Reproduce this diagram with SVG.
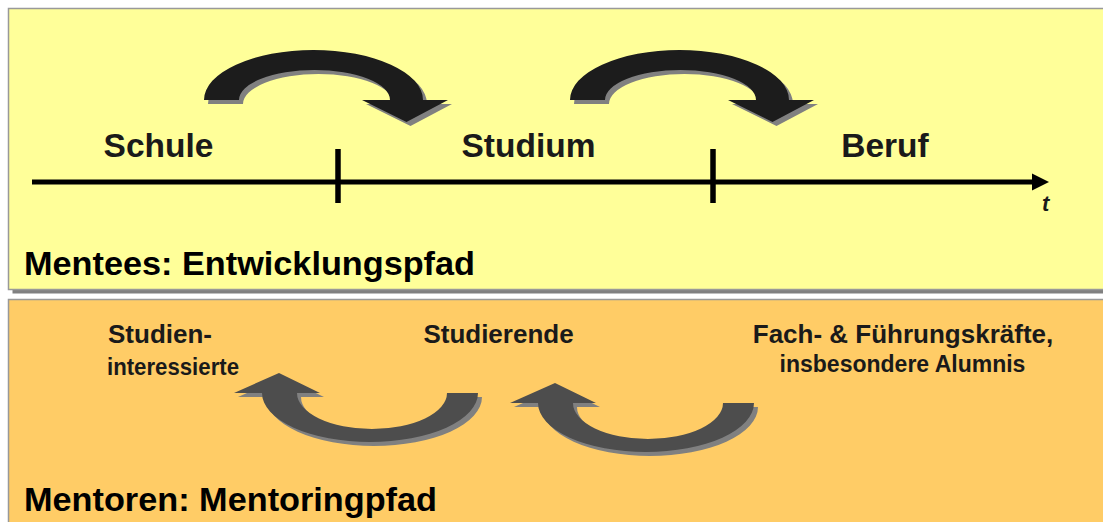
<svg xmlns="http://www.w3.org/2000/svg" width="1103" height="522" viewBox="0 0 1103 522">
<defs>
<style>
.lbl{font-family:"Liberation Sans",Arial,sans-serif;font-weight:bold;fill:#1a1a1a}
.big{font-size:33.5px;text-anchor:middle}
.title{font-size:33px;fill:#000}
.small{font-size:26px;text-anchor:middle}
.tiny{font-size:23px;text-anchor:middle}
.shadow{fill:#808080}
.topArrow{fill:#1c1c1c}
.botArrow{fill:#4d4d4d}
</style>
<path id="arcTop" d="M204,100 A109.5,50 0 0 1 423,100 L448,100 L406.5,122 L362,100 L390,100 A75.5,30 0 0 0 239,100 Z"/>
<path id="arcBot" d="M478,393 A108,49 0 0 1 262,393 L234,393 L279,373 L320,393 L297,393 A75,36 0 0 0 447,393 Z"/>
</defs>
<rect width="1103" height="522" fill="#ffffff"/>
<g id="panel-mentees">
<rect x="12.5" y="12.5" width="1100" height="281" fill="#808080"/>
<rect x="8.5" y="8.5" width="1100" height="281" fill="#ffff99" stroke="#999999" stroke-width="1.5"/>
</g>
<g id="panel-mentoren">
<rect x="8.5" y="299.5" width="1100" height="240" fill="#ffcc66" stroke="#999999" stroke-width="1.5"/>
</g>
<g id="connectors">
<line x1="32" y1="182" x2="1034" y2="182" stroke="#000" stroke-width="5"/>
<polygon points="1032,173.5 1049,182 1032,190.5" fill="#000"/>
<line x1="338" y1="149" x2="338" y2="203" stroke="#000" stroke-width="5.5"/>
<line x1="713" y1="149" x2="713" y2="203" stroke="#000" stroke-width="5.5"/>
<g id="arrow-schule-studium">
<use href="#arcTop" class="shadow" transform="translate(4,4)"/>
<use href="#arcTop" class="topArrow"/>
</g>
<g id="arrow-studium-beruf">
<use href="#arcTop" class="shadow" transform="translate(370,4)"/>
<use href="#arcTop" class="topArrow" transform="translate(366,0)"/>
</g>
<g id="arrow-studierende-studieninteressierte">
<use href="#arcBot" class="shadow" transform="translate(4,4)"/>
<use href="#arcBot" class="botArrow"/>
</g>
<g id="arrow-fach-studierende">
<use href="#arcBot" class="shadow" transform="translate(280,14)"/>
<use href="#arcBot" class="botArrow" transform="translate(276,10)"/>
</g>
</g>
<g id="node-schule"><text class="lbl big" x="158.5" y="157">Schule</text></g>
<g id="node-studium"><text class="lbl big" x="528.5" y="157">Studium</text></g>
<g id="node-beruf"><text class="lbl big" x="885" y="157">Beruf</text></g>
<g id="node-t"><text class="lbl" x="1042" y="211" font-size="22" font-style="italic" fill="#000">t</text></g>
<g id="title-mentees"><text class="lbl title" x="24" y="275" textLength="451" lengthAdjust="spacingAndGlyphs">Mentees: Entwicklungspfad</text></g>
<g id="node-studieninteressierte">
<text class="lbl small" x="160" y="343">Studien-</text>
<text class="lbl" x="107" y="375" font-size="24" textLength="132" lengthAdjust="spacingAndGlyphs">interessierte</text>
</g>
<g id="node-studierende"><text class="lbl small" x="498.5" y="343">Studierende</text></g>
<g id="node-fach">
<text class="lbl small" x="903" y="343">Fach- &amp; Führungskräfte,</text>
<text class="lbl tiny" x="902.5" y="372">insbesondere Alumnis</text>
</g>
<g id="title-mentoren"><text class="lbl title" x="24" y="511" textLength="413" lengthAdjust="spacingAndGlyphs">Mentoren: Mentoringpfad</text></g>
</svg>
